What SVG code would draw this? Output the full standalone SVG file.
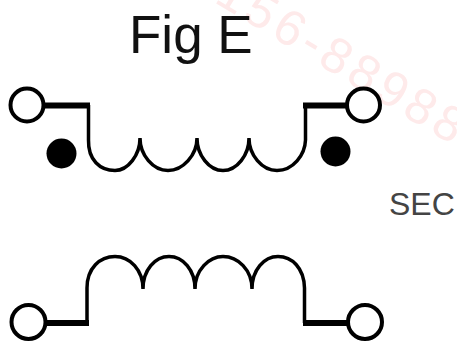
<svg xmlns="http://www.w3.org/2000/svg" width="457" height="342" viewBox="0 0 457 342">
<style>
.t{font-family:"Liberation Sans",Arial,sans-serif}
.w{fill:none;stroke:#000;stroke-width:3.500;stroke-linejoin:miter}
.l{fill:none;stroke:#000;stroke-width:6}
.p{fill:#fff;stroke:#000;stroke-width:4}
</style>
<rect width="457" height="342" fill="#fff"/>
<text class="t" transform="translate(213,1.400) rotate(31)" font-size="50" fill="#feeaea" letter-spacing="5">156-88988</text>
<text id="title" class="t" x="129" y="53" font-size="53" fill="#111">Fig E</text>
<text id="sec" class="t" x="389" y="215" font-size="32" fill="#444">SEC</text>
<g id="connectors">
<path class="w" d="M88.500 105V140C88 160 100 170.500 115 170.500C128 170.500 140 155 140 138C140 155 153 170.500 168 170.500C183 170.500 197 155 197 138C197 155 209 170.500 223 170.500C237 170.500 249 155 249 138C249 155 262 170.500 277 170.500C293 170.500 305 155 305.500 140V105"/>
<path class="l" d="M43 105.500H90M303 105.500H348"/>
<path class="w" d="M87 323V288C87 268 100 256.500 115 256.500C130 256.500 143 270 143 289C143 270 155 256.500 169 256.500C183 256.500 195 270 195 289C195 270 209 256.500 223 256.500C238 256.500 252 270 252 289C252 270 264 256.500 278 256.500C292 256.500 304 268 304.500 288V323"/>
<path class="l" d="M45 323H89M303 323H348"/>
</g>
<g id="primary-left"><circle class="p" cx="27" cy="105" r="16.500"/></g>
<g id="primary-right"><circle class="p" cx="363.500" cy="105" r="16.500"/></g>
<g id="secondary-left"><circle class="p" cx="28.500" cy="322" r="17"/></g>
<g id="secondary-right"><circle class="p" cx="365" cy="322" r="17"/></g>
<g id="dot-left"><circle cx="61.500" cy="153.500" r="15"/></g>
<g id="dot-right"><circle cx="335.500" cy="151.500" r="15"/></g>
</svg>
